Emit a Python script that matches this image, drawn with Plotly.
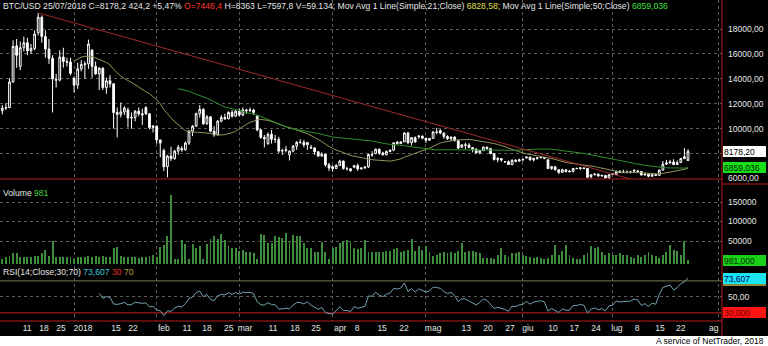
import numpy as np
import pandas as pd
import plotly.graph_objects as go

# ---------------- BTC/USD daily sessions, 04/12/2017 - 25/07/2018 ----------------
opens = [
    11450, 11650, 11700, 13750, 16650, 15000, 16500, 16900, 16250, 16450,
    17700, 18950, 17400, 16400, 15650, 13950, 13900, 15750, 15400, 15350,
    14050, 13500, 14800, 15150, 15200, 16300, 15000, 14400, 14850, 13300,
    13850, 13600, 11300, 11150, 11350, 11500, 10850, 10900, 11400, 11200,
    11700, 11200, 10100, 10200, 9100, 8250, 6950, 7800, 7600, 8200,
    8400, 8300, 8850, 9800, 10200, 11200, 11550, 10400, 10950, 9800,
    9500, 10600, 10900, 10800, 11300, 11000, 11400, 11100, 11500, 11450,
    11500, 11000, 9900, 9300, 8800, 9550, 9150, 9150, 8200, 8250,
    7900, 8200, 8600, 8900, 8900, 8700, 8500, 8450, 8150, 7800,
    7950, 7100, 6950, 6800, 7050, 7400, 6800, 6780, 6900, 7030,
    6780, 6840, 6930, 7920, 8000, 8350, 8050, 7900, 8170, 8280,
    8920, 8800, 8940, 9650, 8870, 9280, 9350, 9400, 9240, 9070,
    9220, 9740, 9850, 9650, 9370, 9200, 9320, 9030, 8500, 8700,
    8680, 8480, 8350, 8060, 8240, 8520, 8400, 8000, 7520, 7600,
    7360, 7350, 7120, 7460, 7390, 7500, 7650, 7720, 7490, 7620,
    7660, 7690, 7500, 6800, 6950, 6700, 6500, 6700, 6600, 6550,
    6800, 6800, 6850, 6800, 6150, 6300, 6350, 6200, 6250, 6050,
    6380, 6321.6, 6540, 6480, 6500, 6500, 6650, 6600, 6560, 6280,
    6350, 6180, 6309, 6250, 6678, 7150, 7250, 7330, 7111, 7280,
    7600, 7446.4,
]
highs = [
    11900, 12050, 14050, 17100, 17200, 17000, 17400, 17300, 16800, 17900,
    19300, 19100, 17900, 17200, 15900, 14400, 16300, 16500, 15700, 15700,
    14200, 15300, 15500, 15400, 17150, 16400, 15400, 14950, 14950, 14100,
    14300, 13650, 11700, 12100, 11800, 11700, 11300, 11500, 11700, 11600,
    11800, 11250, 10300, 10250, 9100, 8400, 7900, 8550, 8300, 8700,
    8600, 8950, 9900, 10300, 11300, 11900, 11650, 11100, 11000, 10200,
    10700, 11100, 11200, 11400, 11500, 11500, 11600, 11700, 11600, 11700,
    11600, 11100, 10000, 9500, 9700, 9900, 9500, 9350, 8400, 8600,
    8250, 8700, 9000, 9150, 9100, 8900, 8700, 8500, 8200, 8100,
    7950, 7250, 7050, 7150, 7500, 7450, 6950, 6850, 7100, 7200,
    6900, 6950, 8000, 8200, 8400, 8400, 8150, 8250, 8300, 8900,
    9000, 8990, 9730, 9750, 9300, 9380, 9500, 9450, 9250, 9250,
    9800, 10050, 9950, 9700, 9480, 9380, 9400, 9050, 8750, 8880,
    8850, 8500, 8450, 8260, 8550, 8550, 8400, 8000, 7720, 7640,
    7400, 7450, 7530, 7560, 7600, 7600, 7750, 7750, 7650, 7700,
    7750, 7700, 7520, 7000, 6980, 6750, 6780, 6720, 6650, 6850,
    6880, 6900, 6880, 6820, 6350, 6420, 6380, 6300, 6270, 6350,
    6450, 6650, 6680, 6700, 6650, 6620, 6750, 6700, 6600, 6400,
    6400, 6360, 6360, 6720, 7400, 7500, 7500, 7550, 7450, 7650,
    8450, 8363,
]
lows = [
    11150, 11500, 11650, 13700, 14900, 14700, 16200, 15900, 16000, 16300,
    17500, 16900, 15700, 15200, 11300, 13300, 13800, 14900, 15000, 14300,
    12900, 13200, 14600, 14000, 14800, 14100, 14300, 13100, 13100, 12800,
    13300, 10000, 9300, 10900, 11100, 10100, 10000, 10600, 11000, 10300,
    11100, 9950, 9700, 8800, 7700, 6600, 6100, 7400, 7500, 7900,
    8150, 8250, 8700, 9400, 10150, 10900, 10300, 10300, 9700, 9350,
    9450, 10500, 10700, 10750, 10900, 10950, 11000, 11000, 11200, 11350,
    11100, 9800, 9200, 8500, 8700, 8800, 8850, 8050, 7900, 8100,
    7450, 8100, 8300, 8800, 8500, 8300, 8400, 7900, 7750, 7750,
    6950, 6600, 6550, 6800, 7000, 6700, 6650, 6550, 6880, 6600,
    6700, 6800, 6850, 7750, 7950, 7900, 7850, 7880, 8100, 8200,
    8750, 8800, 8930, 8750, 8650, 8900, 9200, 9150, 8850, 9050,
    9200, 9550, 9550, 9200, 9100, 9000, 9000, 8350, 8450, 8350,
    8450, 8100, 8000, 7950, 8200, 8330, 7950, 7450, 7300, 7350,
    7250, 7100, 7060, 7300, 7370, 7370, 7600, 7450, 7370, 7500,
    7650, 7550, 6750, 6700, 6650, 6350, 6450, 6500, 6500, 6500,
    6750, 6700, 6750, 6050, 6000, 6250, 6150, 6150, 6000, 6000,
    6300, 6300, 6450, 6450, 6420, 6400, 6550, 6500, 6250, 6250,
    6100, 6120, 6200, 6230, 6650, 7100, 7200, 7080, 7100, 7260,
    7550, 7597.8,
]
closes = [
    11650, 11700, 13750, 16600, 15900, 16500, 16900, 16250, 16450, 17600,
    18950, 17400, 16400, 15650, 14000, 13900, 15750, 15400, 15350, 14450,
    13500, 14800, 15150, 15200, 16800, 15000, 14400, 14850, 13300, 13850,
    13600, 11300, 11150, 11350, 11650, 10850, 10900, 11400, 11200, 11100,
    11200, 10100, 10200, 9100, 8850, 6950, 7800, 7600, 8200, 8500,
    8300, 8850, 9800, 10200, 11200, 11550, 10400, 10950, 9800, 9500,
    10600, 10900, 10800, 11300, 11000, 11400, 11100, 11500, 11450, 11500,
    11300, 9900, 9300, 9200, 9550, 9150, 9150, 8200, 8250, 8300,
    8200, 8600, 8900, 8900, 8700, 8900, 8450, 8150, 7800, 7950,
    7100, 6850, 6800, 7050, 7400, 6800, 6780, 6620, 7030, 6780,
    6840, 6930, 7920, 7890, 8350, 8050, 7900, 8170, 8280, 8860,
    8800, 8940, 9650, 8870, 9280, 8930, 9400, 9240, 9070, 9220,
    9740, 9700, 9650, 9370, 9200, 9320, 9030, 8440, 8700, 8680,
    8480, 8350, 8060, 8240, 8520, 8400, 8000, 7520, 7600, 7480,
    7350, 7120, 7460, 7390, 7500, 7530, 7720, 7490, 7620, 7660,
    7690, 7620, 6800, 6950, 6700, 6500, 6700, 6550, 6550, 6800,
    6800, 6850, 6800, 6100, 6300, 6350, 6200, 6250, 6050, 6300,
    6321.6, 6540, 6480, 6500, 6500, 6520, 6600, 6560, 6280, 6350,
    6180, 6309, 6250, 6678, 7150, 7250, 7330, 7111, 7280, 7600,
    7754, 8178.2,
]
volumes = [
    4400, 9500, 12800, 18000, 18000, 9500, 9500, 9500, 9500, 11000,
    12800, 19600, 26000, 12800, 49000, 8000, 9500, 9500, 9500, 8000,
    4000, 8000, 9500, 9500, 11000, 9500, 11000, 9500, 12800, 9500,
    8000, 31000, 34000, 12800, 9500, 9500, 8000, 9500, 5500, 9500,
    8000, 12800, 14000, 8000, 35000, 41000, 62000, 169000, 3000, 3000,
    52000, 43600, 3000, 43600, 32500, 38000, 3000, 43600, 54000, 64000,
    54000, 68000, 52000, 38000, 33000, 33000, 25000, 28000, 22000, 22000,
    20000, 3000, 69000, 66600, 45000, 44000, 62000, 60000, 58000, 71000,
    49000, 66600, 64000, 64000, 45000, 33000, 31000, 21000, 21000, 47000,
    21000, 3000, 33000, 35000, 45000, 49000, 52000, 47000, 33000, 30000,
    32000, 52000, 21000, 21000, 23000, 21000, 23000, 24000, 25000, 30000,
    32000, 21000, 25000, 27000, 54000, 25000, 36000, 27000, 36000, 21000,
    11000, 15000, 18000, 21000, 18000, 21000, 19000, 25000, 45000, 21000,
    25000, 25000, 23000, 18000, 7000, 7000, 7000, 3000, 15000, 32000,
    15000, 9000, 18000, 18000, 21000, 13000, 11000, 9000, 7000, 9000,
    7000, 5000, 7000, 13000, 41000, 15000, 25000, 41000, 13000, 7000,
    5000, 3000, 13000, 19000, 36000, 32000, 34000, 21000, 15000, 18000,
    15000, 15000, 18000, 15000, 15000, 9000, 7000, 13000, 9000, 13000,
    21000, 13000, 11000, 7000, 13000, 21000, 41000, 27000, 25000, 15000,
    51000, 981,
]

n = len(closes)
sessions = list(range(n))

# date axis: label positions (in sessions) and their texts, month boundaries
tick_pos = [6.9, 11.6, 16.35, 22.5, 31.7, 36.4, 45.0, 51.45, 57.0, 63.1, 67.6,
            75.4, 81.5, 87.4, 94.1, 98.8, 105.8, 111.9, 120.0, 129.2, 135.3,
            141.4, 146.4, 153.4, 159.3, 165.4, 171.2, 176.8, 183.2, 189.0, 198.2]
tick_text = ["11", "18", "25", "2018", "15", "22", "feb", "11", "18", "25", "mar",
             "11", "18", "25", "apr", "8", "15", "22", "mag", "13", "20",
             "27", "giu", "10", "17", "24", "lug", "8", "15", "22", "ag"]
month_starts = [20, 43, 66, 92, 118, 145, 170, 199.6]

price_ticks = [6000, 8000, 10000, 12000, 14000, 16000, 18000]
price_tick_text = ["6000,00", "", "10000,00", "12000,00", "14000,00", "16000,00", "18000,00"]
volume_ticks = [50000, 100000, 150000]
rsi_ticks = [50]
rsi_low, rsi_high = 30, 70
rsi_last = 73.607

# trend line drawn from the December top
trend_sessions = [10, 177.6]
trend_prices = [19300, 5743]

# ---------------- indicators ----------------
c = pd.Series(closes, dtype=float)
sma21 = c.rolling(21).mean()
sma50 = c.rolling(50).mean()

# RSI(14), Wilder smoothing
d = c.diff().fillna(0).to_numpy()
up = np.clip(d, 0, None)
dn = np.clip(-d, 0, None)
avg_up = np.full(n, np.nan)
avg_dn = np.full(n, np.nan)
avg_up[14] = up[1:15].mean()
avg_dn[14] = dn[1:15].mean()
for k in range(15, n):
    avg_up[k] = (avg_up[k - 1] * 13 + up[k]) / 14
    avg_dn[k] = (avg_dn[k - 1] * 13 + dn[k]) / 14
rsi = 100 - 100 / (1 + avg_up / avg_dn)
rsi_shown = [v if i >= 27 else None for i, v in enumerate(rsi)]


def it(v, dec=None):
    s = f"{v:.{dec}f}" if dec is not None else ("%g" % round(v, 1))
    return s.replace(".", ",")


# ---------------- page geometry ----------------
W, H = 768, 346
R_M, B_M = 46, 25
PH = H - B_M            # plot area height (top margin 0)
PW = W - R_M


def py(y_px):
    return (PH - y_px) / PH


def px(x_px):
    return x_px / PW


FONT = "Liberation Sans"
FS = 8.5
TXT = "#e6e6e6"
GRID = "#5c5c5c"
RED = "#b81c1c"

X_RANGE = [-0.64, 200.47]
PRICE_RANGE = [5960, 20333]
VOL_RANGE = [-8974, 206410]
RSI_RANGE = [19.9, 88.64]
RSI_DOMAIN = [0, py(266)]


def rsi_py(v):
    f = (v - RSI_RANGE[0]) / (RSI_RANGE[1] - RSI_RANGE[0])
    return RSI_DOMAIN[0] + f * (RSI_DOMAIN[1] - RSI_DOMAIN[0])


fig = go.Figure()

fig.add_trace(go.Candlestick(
    x=sessions, open=opens, high=highs, low=lows, close=closes,
    increasing=dict(line=dict(color="#ffffff", width=1), fillcolor="#000000"),
    decreasing=dict(line=dict(color="#ffffff", width=1), fillcolor="#ffffff"),
    whiskerwidth=0, showlegend=False, hoverinfo="skip", xaxis="x", yaxis="y"))

fig.add_trace(go.Scatter(x=sessions, y=sma21, mode="lines",
                         line=dict(color="#95955a", width=1),
                         showlegend=False, hoverinfo="skip", xaxis="x", yaxis="y"))
fig.add_trace(go.Scatter(x=sessions, y=sma50, mode="lines",
                         line=dict(color="#2f8f2f", width=1),
                         showlegend=False, hoverinfo="skip", xaxis="x", yaxis="y"))
fig.add_trace(go.Scatter(x=trend_sessions, y=trend_prices, mode="lines",
                         line=dict(color="#a02a2a", width=1),
                         showlegend=False, hoverinfo="skip", xaxis="x", yaxis="y"))

# volume bars start from the panel floor
fig.add_trace(go.Bar(x=sessions, y=[v - VOL_RANGE[0] for v in volumes], base=VOL_RANGE[0],
                     width=0.26, marker=dict(color="#3f8c3f", line=dict(width=0)),
                     showlegend=False, hoverinfo="skip", xaxis="x2", yaxis="y2"))

fig.add_trace(go.Scatter(x=sessions, y=rsi_shown, mode="lines",
                         line=dict(color="#73a3b2", width=1),
                         showlegend=False, hoverinfo="skip", xaxis="x3", yaxis="y3"))

xbase = dict(range=X_RANGE, showgrid=False, zeroline=False, showline=False,
             fixedrange=True,
             minor=dict(tickmode="array", tickvals=month_starts, showgrid=True,
                        gridcolor=GRID, griddash="dot", gridwidth=1, ticks=""))
ybase = dict(side="right", showgrid=True, gridcolor=GRID, griddash="dot", gridwidth=1,
             zeroline=False, showline=False, ticks="", ticklabelstandoff=5,
             tickfont=dict(family=FONT, size=FS, color=TXT))

fig.update_layout(
    width=W, height=H,
    margin=dict(l=0, r=R_M, t=0, b=B_M, pad=0),
    paper_bgcolor="#000000", plot_bgcolor="#000000",
    separators=",.", hovermode=False, showlegend=False, bargap=0,
    xaxis=dict(xbase, anchor="y", showticklabels=False, rangeslider=dict(visible=False)),
    xaxis2=dict(xbase, anchor="y2", showticklabels=False),
    xaxis3=dict(xbase, anchor="y3", tickmode="array", tickvals=tick_pos, ticktext=tick_text,
                tickangle=0, ticks="", tickfont=dict(family=FONT, size=FS, color=TXT)),
    yaxis=dict(ybase, domain=[py(179), 1], range=PRICE_RANGE, tickmode="array",
               tickvals=price_ticks, ticktext=price_tick_text, anchor="x"),
    yaxis2=dict(ybase, domain=[py(264), py(180)], range=VOL_RANGE, tickmode="array",
                tickvals=volume_ticks, tickformat="d", anchor="x2"),
    yaxis3=dict(ybase, domain=RSI_DOMAIN, range=RSI_RANGE, tickmode="array",
                tickvals=rsi_ticks, tickformat=".2f", anchor="x3"),
)

shapes = [
    # RSI reference levels
    dict(type="line", xref="paper", yref="y3", x0=0, x1=1, y0=rsi_high, y1=rsi_high,
         line=dict(color="#7c7c52", width=1), layer="between"),
    dict(type="line", xref="paper", yref="y3", x0=0, x1=1, y0=rsi_low, y1=rsi_low,
         line=dict(color="#c02222", width=1), layer="between"),
    # panel frame
    dict(type="line", xref="paper", yref="paper", x0=0, x1=1, y0=py(179), y1=py(179),
         line=dict(color=RED, width=1)),
    dict(type="line", xref="paper", yref="paper", x0=1, x1=px(W), y0=py(184), y1=py(184),
         line=dict(color=RED, width=1)),
    dict(type="line", xref="paper", yref="paper", x0=0, x1=1, y0=py(321), y1=py(321),
         line=dict(color=RED, width=1)),
    dict(type="line", xref="paper", yref="paper", x0=1, x1=1, y0=py(336), y1=1,
         line=dict(color=RED, width=1)),
    # RSI 70 level marker on the scale, mostly covered by the last-value badge
    dict(type="rect", xref="paper", yref="paper", x0=px(723), x1=px(766),
         y0=rsi_py(rsi_high) - 5 / PH, y1=rsi_py(rsi_high) + 5 / PH,
         fillcolor="#8c8c3c", line=dict(width=0)),
    # footer strip
    dict(type="rect", xref="paper", yref="paper", x0=-0.01, x1=px(W) + 0.01,
         y0=py(H + 2), y1=py(336), fillcolor="#ffffff", line=dict(width=0)),
]
fig.update_layout(shapes=shapes)

chg = round(closes[-1] - closes[-2], 1)
pct = chg / closes[-2] * 100
header = (
    f"BTC/USD 25/07/2018 C={it(closes[-1])} {it(chg)} +{it(pct, 2)}% "
    f'<span style="color:#ff3b30">O={it(opens[-1])}</span>'
    f" H={it(highs[-1])} L={it(lows[-1])} V=59.134; Mov Avg 1 Line(Simple;21;Close) "
    f'<span style="color:#e2e25a">{it(sma21.iloc[-1], 2)};</span>'
    f" Mov Avg 1 Line(Simple;50;Close) "
    f'<span style="color:#3fe03f">{it(sma50.iloc[-1], 3)}</span>'
)
vol_title = f'Volume <span style="color:#3fd03f">{volumes[-1]}</span>'
rsi_title = (
    f'RSI(14;Close;{rsi_low};{rsi_high}) '
    f'<span style="color:#3fc8d8">{it(rsi_last, 3)}</span> '
    f'<span style="color:#e03030">{rsi_low}</span> '
    f'<span style="color:#b0a040">{rsi_high}</span>'
)

ann = []
for text, ypx in [(header, 6), (vol_title, 193), (rsi_title, 272)]:
    ann.append(dict(text=text, xref="paper", yref="paper", x=0, y=py(ypx),
                    xanchor="left", yanchor="middle", showarrow=False, xshift=1,
                    font=dict(family=FONT, size=8.6, color=TXT)))

ann.append(dict(text="A service of NetTrader, 2018", xref="paper", yref="paper",
                x=px(766), y=py(341), xanchor="right", yanchor="middle", showarrow=False,
                font=dict(family=FONT, size=FS, color="#000000")))

# last-value badges on the right scale
badges = [
    ("y", closes[-1], it(closes[-1], 2), "#ffffff", "#000000"),
    ("y", sma50.iloc[-1], it(sma50.iloc[-1], 3), "#19e019", "#002000"),
    ("y2", volumes[-1], it(volumes[-1], 3), "#19d019", "#003000"),
    ("y3", rsi_last, it(rsi_last, 3), "#19e6f0", "#00006a"),
    ("y3", rsi_low, it(rsi_low, 3), "#ff1414", "#700000"),
]
for yref, val, text, bg, fg in badges:
    ann.append(dict(text=text, xref="paper", yref=yref, x=1, y=val, xanchor="left",
                    yanchor="middle", xshift=1, showarrow=False, width=41, height=9,
                    align="left", bgcolor=bg, borderpad=1, borderwidth=0,
                    font=dict(family=FONT, size=FS, color=fg)))

fig.update_layout(annotations=ann)

fig.write_html("out.html")
